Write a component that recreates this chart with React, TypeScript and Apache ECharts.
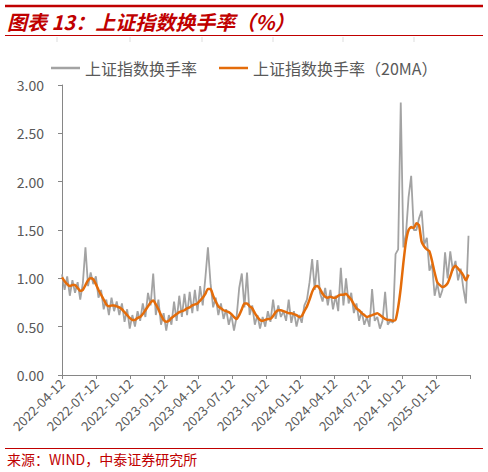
import React, { useEffect, useRef } from 'react';
import * as echarts from 'echarts';

// weekly samples, first one on 2022-04-12
const startDate = '2022-04-12';

const tickDates = [
  '2022-04-12', '2022-07-12', '2022-10-12', '2023-01-12', '2023-04-12', '2023-07-12',
  '2023-10-12', '2024-01-12', '2024-04-12', '2024-07-12', '2024-10-12', '2025-01-12',
  '2025-04-12',
];

const seriesNames = ['上证指数换手率', '上证指数换手率（20MA）'];

const turnover = [
  1.04, 0.88, 1.02, 0.82, 0.98, 0.85, 0.96, 0.78, 0.95, 1.32,
  0.92, 1.06, 0.94, 1.02, 0.80, 0.88, 0.68, 0.78, 0.62, 0.80,
  0.66, 0.76, 0.62, 0.74, 0.55, 0.68, 0.48, 0.62, 0.50, 0.66,
  0.56, 0.74, 0.60, 0.85, 0.72, 1.05, 0.62, 0.78, 0.52, 0.64,
  0.46, 0.62, 0.52, 0.76, 0.56, 0.82, 0.60, 0.84, 0.62, 0.86,
  0.64, 0.88, 0.66, 0.92, 0.72, 1.00, 1.32, 0.95, 0.70, 0.80,
  0.62, 0.74, 0.58, 0.68, 0.52, 0.62, 0.46, 0.60, 0.90, 1.05,
  0.70, 1.06, 0.62, 0.72, 0.52, 0.62, 0.48, 0.60, 0.50, 0.66,
  0.55, 0.78, 0.58, 0.72, 0.60, 0.66, 0.56, 0.78, 0.54, 0.66,
  0.50, 0.62, 0.54, 0.72, 0.78, 0.96, 1.20, 0.88, 1.19, 0.85,
  0.76, 0.90, 0.72, 0.88, 0.68, 0.82, 0.66, 1.11, 0.72, 1.00,
  0.74, 0.85, 0.64, 0.74, 0.56, 0.66, 0.52, 0.60, 0.50, 0.89,
  0.56, 0.60, 0.48, 0.56, 0.86, 0.52, 0.56, 0.54, 1.25, 1.30,
  2.82, 1.32, 1.46, 1.84, 2.06, 1.50, 1.50, 1.62, 1.70, 1.35,
  1.42, 1.08, 1.15, 0.82, 0.95, 0.80, 0.88, 1.27, 1.00, 1.28,
  1.08, 1.18, 0.98, 1.10, 0.90, 0.74, 1.44,
];

const ma20 = [
  1.01, 0.97, 0.94, 0.92, 0.93, 0.93, 0.90, 0.87, 0.88, 0.93,
  0.98, 1.00, 0.99, 0.94, 0.88, 0.83, 0.78, 0.73, 0.71, 0.72,
  0.72, 0.71, 0.70, 0.68, 0.65, 0.62, 0.59, 0.57, 0.57, 0.59,
  0.60, 0.63, 0.67, 0.71, 0.75, 0.77, 0.73, 0.68, 0.62, 0.57,
  0.55, 0.56, 0.59, 0.61, 0.63, 0.65, 0.66, 0.67, 0.69, 0.70,
  0.72, 0.73, 0.74, 0.77, 0.80, 0.84, 0.89, 0.89, 0.82, 0.76,
  0.71, 0.69, 0.67, 0.66, 0.65, 0.63, 0.60, 0.58, 0.62, 0.68,
  0.74, 0.74, 0.71, 0.69, 0.64, 0.60, 0.57, 0.56, 0.57, 0.58,
  0.58, 0.61, 0.65, 0.67, 0.67, 0.66, 0.65, 0.64, 0.64, 0.63,
  0.62, 0.60, 0.61, 0.66, 0.71, 0.78, 0.86, 0.91, 0.92, 0.89,
  0.84, 0.81, 0.80, 0.81, 0.80, 0.80, 0.82, 0.83, 0.83, 0.84,
  0.81, 0.78, 0.73, 0.69, 0.67, 0.64, 0.62, 0.60, 0.61, 0.62,
  0.63, 0.64, 0.62, 0.60, 0.58, 0.57, 0.57, 0.56, 0.57, 0.70,
  0.90, 1.16, 1.38, 1.50, 1.53, 1.52, 1.57, 1.55, 1.38, 1.33,
  1.30, 1.28, 1.18, 1.06, 0.96, 0.93, 0.91, 0.92, 0.95, 1.02,
  1.10, 1.13, 1.10, 1.07, 1.03, 0.98, 1.04,
];

const DAY = 86400000;
const toTs = (s: string) => {
  const [y, m, d] = s.split('-').map(Number);
  return Date.UTC(y, m - 1, d);
};
const pad = (n: number) => (n < 10 ? '0' + n : '' + n);
const fmtDate = (v: number) => {
  const d = new Date(v);
  return d.getUTCFullYear() + '-' + pad(d.getUTCMonth() + 1) + '-' + pad(d.getUTCDate());
};

const FONT = '"Noto Sans CJK SC", "Noto Sans", sans-serif';
const RED = '#C00000';
const AXIS = '#868686';
const LABEL = '#595959';
const GRAY = '#A3A3A3';
const ORANGE = '#E46C0A';

const App: React.FC = () => {
  const chartRef = useRef<HTMLDivElement>(null);

  useEffect(() => {
    document.body.style.margin = '0';
    if (!chartRef.current) return;
    const chart = echarts.init(chartRef.current, undefined, { renderer: 'svg' });

    const t0 = toTs(startDate);
    const toPairs = (arr: number[]) => arr.map((v, i) => [t0 + i * 7 * DAY, v]);
    const tickTs = tickDates.map(toTs);

    const faintTicks = [57, 130, 202, 273, 343, 414].map(x => ({
      type: 'line',
      shape: { x1: x, y1: 37, x2: x, y2: 42 },
      style: { stroke: '#DDDDDD', lineWidth: 1 },
    }));

    chart.setOption({
      animation: false,
      textStyle: { fontFamily: FONT },
      grid: { left: 62, right: 18, top: 85, bottom: 97 },
      legend: {
        left: 46,
        top: 55,
        icon: 'rect',
        itemWidth: 29,
        itemHeight: 2.5,
        itemGap: 22,
        data: seriesNames,
        textStyle: { color: LABEL, fontSize: 16, fontFamily: FONT },
      },
      xAxis: {
        type: 'value',
        min: tickTs[0],
        max: tickTs[tickTs.length - 1],
        splitLine: { show: false },
        axisLine: { lineStyle: { color: AXIS, width: 1 } },
        axisTick: {
          show: true,
          customValues: tickTs,
          length: 4,
          lineStyle: { color: AXIS },
        },
        axisLabel: {
          customValues: tickTs.slice(0, tickTs.length - 1),
          rotate: 45,
          margin: 6,
          color: LABEL,
          fontSize: 13,
          fontFamily: FONT,
          formatter: (v: number) => fmtDate(v),
        },
      },
      yAxis: {
        type: 'value',
        min: 0,
        max: 3,
        interval: 0.5,
        splitLine: { show: false },
        axisLine: { show: true, lineStyle: { color: AXIS, width: 1 } },
        axisTick: { show: true, length: 4, lineStyle: { color: AXIS } },
        axisLabel: {
          margin: 18,
          color: LABEL,
          fontSize: 14,
          fontFamily: FONT,
          formatter: (v: number) => v.toFixed(2),
        },
      },
      series: [
        {
          name: seriesNames[0],
          type: 'line',
          data: toPairs(turnover),
          symbol: 'none',
          lineStyle: { color: GRAY, width: 1.8 },
          itemStyle: { color: GRAY },
          z: 2,
        },
        {
          name: seriesNames[1],
          type: 'line',
          data: toPairs(ma20),
          symbol: 'none',
          smooth: 0.2,
          lineStyle: { color: ORANGE, width: 2.5 },
          itemStyle: { color: ORANGE },
          z: 3,
        },
      ],
      graphic: [
        {
          type: 'line',
          shape: { x1: 5, y1: 6, x2: 483, y2: 6 },
          style: { stroke: RED, lineWidth: 2.5 },
        },
        {
          type: 'text',
          left: 7,
          top: 11,
          style: {
            text: '图表 13：上证指数换手率（%）',
            fill: RED,
            font: `italic bold 20px ${FONT}`,
          },
        },
        {
          type: 'line',
          shape: { x1: 5, y1: 35.5, x2: 483, y2: 35.5 },
          style: { stroke: RED, lineWidth: 1.2 },
        },
        ...faintTicks,
        {
          type: 'line',
          shape: { x1: 5, y1: 448.5, x2: 483, y2: 448.5 },
          style: { stroke: RED, lineWidth: 1 },
        },
        {
          type: 'text',
          left: 7,
          top: 452,
          style: {
            text: '来源：WIND，中泰证券研究所',
            fill: RED,
            font: `14px ${FONT}`,
          },
        },
      ],
    });

    return () => {
      chart.dispose();
    };
  }, []);

  return <div ref={chartRef} style={{ width: 488, height: 472 }} />;
};

export default App;
